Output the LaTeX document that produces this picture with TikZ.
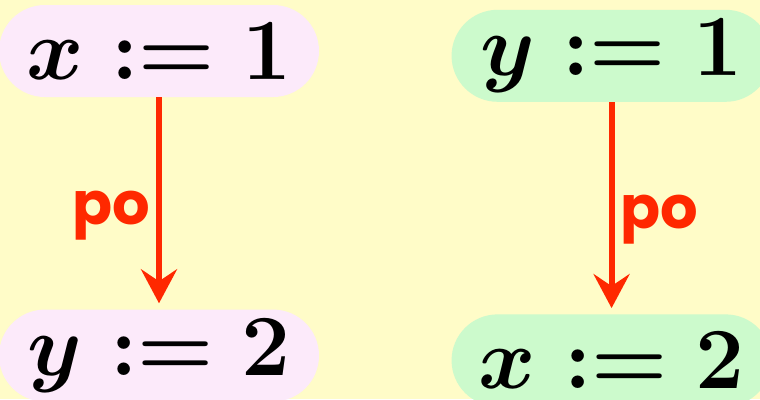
\RequirePackage{fix-cm}
\documentclass[tikz,border=0pt]{standalone}
\usepackage{fontspec}
\newfontfamily\pofont{Poppins}
\usepackage{tikz}
\usetikzlibrary{arrows.meta,positioning}
\definecolor{bgyellow}{RGB}{255,252,200}
\definecolor{evpink}{RGB}{252,234,250}
\definecolor{evgreen}{RGB}{204,250,204}
\definecolor{poorange}{RGB}{255,40,0}
\tikzset{
    event/.style={rectangle, rounded corners=1.15cm, minimum width=8cm, minimum height=2.3cm, align=center, font=\fontsize{62}{74}\selectfont\boldmath},
    evleft/.style={event, fill=evpink},
    evright/.style={event, fill=evgreen},
    po/.style={-{Stealth[length=0.85cm, width=0.9cm, inset=0.3cm]}, line width=0.15cm, draw=poorange, shorten >=0.15cm},
    polabel/.style={text=poorange, font=\pofont\bfseries\fontsize{42}{50}\selectfont, inner sep=0.15cm, yshift=-0.3cm},
}

\begin{document}
\begin{tikzpicture}
    \clip (0,0) rectangle (19,9.975);
    \fill[bgyellow] (0,0) rectangle (19,9.975);
    \node[evleft] (wx1) at (3.975,8.70) {$x \mathrel{:=} 1$};
    \node[evleft, below=5.3cm of wx1] (wy2) {$y \mathrel{:=} 2$};
    \node[evright, right=3.3cm of wx1, yshift=-0.12cm] (wy1) {$y \mathrel{:=} 1$};
    \node[evright, below=5.3cm of wy1] (wx2) {$x \mathrel{:=} 2$};

    \draw[po] (wx1) -- node[polabel, left] {po} (wy2);
    \draw[po] (wy1) -- node[polabel, right] {po} (wx2);
\end{tikzpicture}
\end{document}
